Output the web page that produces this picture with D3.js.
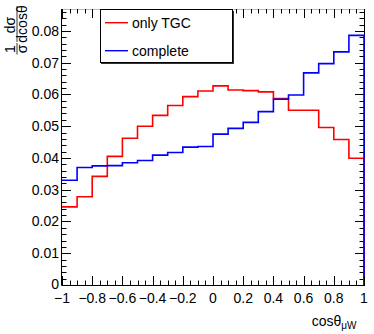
<!DOCTYPE html>
<html>
<head>
<meta charset="utf-8">
<script src="https://cdn.jsdelivr.net/npm/d3@7"></script>
<style>
  html, body { margin: 0; padding: 0; background: #fff; }
  svg { display: block; font-family: "Liberation Sans", Arial, Helvetica, sans-serif; }
</style>
</head>
<body>
<svg id="chart" width="374" height="334"></svg>
<script>
// ---- data ----
const binLow  = [-1.0,-0.9,-0.8,-0.7,-0.6,-0.5,-0.4,-0.3,-0.2,-0.1, 0.0, 0.1, 0.2, 0.3, 0.4, 0.5, 0.6, 0.7, 0.8, 0.9];
const binHigh = [-0.9,-0.8,-0.7,-0.6,-0.5,-0.4,-0.3,-0.2,-0.1, 0.0, 0.1, 0.2, 0.3, 0.4, 0.5, 0.6, 0.7, 0.8, 0.9, 1.0];
const onlyTGC = [0.0246,0.0278,0.0342,0.0405,0.0462,0.0500,0.0534,0.0565,0.0593,0.0611,
                 0.0627,0.0614,0.0612,0.0608,0.0587,0.0550,0.0550,0.0496,0.0458,0.0399];
const complete = [0.0330,0.0370,0.0375,0.0376,0.0385,0.0392,0.0409,0.0417,0.0434,0.0436,
                  0.0475,0.0493,0.0512,0.0546,0.0585,0.0598,0.0668,0.0697,0.0734,0.0786];
const seriesNames = ["only TGC", "complete"];
const seriesColors = ["#ff0000", "#0000ff"];
const xTickValues = [-1,-0.8,-0.6,-0.4,-0.2,0,0.2,0.4,0.6,0.8,1];
const xTickLabels = ["\u22121","\u22120.8","\u22120.6","\u22120.4","\u22120.2","0","0.2","0.4","0.6","0.8","1"];
const yTickValues = [0,0.01,0.02,0.03,0.04,0.05,0.06,0.07,0.08];
const yTickLabels = ["0","0.01","0.02","0.03","0.04","0.05","0.06","0.07","0.08"];
const xDomain = [-1, 1];
const yDomain = [0, 0.0869];

// ---- layout ----
const L = 62, R = 364, T = 9, B = 285;
const svg = d3.select("#chart");
const x = d3.scaleLinear().domain(xDomain).range([L, R]);
const y = d3.scaleLinear().domain(yDomain).range([B, T]);

const majorLen = 9, minorLen = 4.5;
const xMinor = d3.range(-1, 1.0001, 0.05).map(v => +v.toFixed(2));
const yMinor = d3.range(0, 0.0869, 0.002).map(v => +v.toFixed(3));

svg.append("defs").append("clipPath").attr("id", "plotclip")
  .append("rect").attr("x", L).attr("y", T).attr("width", R - L + 1).attr("height", B - T);

// right & top frame (under histograms)
const frame = svg.append("g").attr("stroke", "#000").attr("stroke-width", 1).attr("fill", "none");
frame.append("line").attr("x1", R + 0.5).attr("x2", R + 0.5).attr("y1", T).attr("y2", B);
frame.append("line").attr("x1", L).attr("x2", R).attr("y1", T + 0.5).attr("y2", T + 0.5).attr("stroke", "#bbb");
xMinor.forEach(v => {
  const isMajor = xTickValues.some(t => Math.abs(t - v) < 1e-6);
  const len = isMajor ? majorLen : minorLen;
  frame.append("line").attr("x1", Math.round(x(v)) + 0.5).attr("x2", Math.round(x(v)) + 0.5)
    .attr("y1", T).attr("y2", T + len);
});
yMinor.forEach(v => {
  const isMajor = yTickValues.some(t => Math.abs(t - v) < 1e-6);
  const len = isMajor ? majorLen : minorLen;
  frame.append("line").attr("y1", Math.round(y(v)) + 0.5).attr("y2", Math.round(y(v)) + 0.5)
    .attr("x1", R).attr("x2", R - len);
});

// ---- histograms ----
function histPath(vals) {
  const p = d3.path();
  vals.forEach((v, i) => {
    if (i === 0) p.moveTo(x(binLow[i]), y(v)); else p.lineTo(x(binLow[i]), y(v));
    p.lineTo(x(binHigh[i]), y(v));
  });
  p.lineTo(x(binHigh[binHigh.length - 1]), y(0));
  return p.toString();
}
const hg = svg.append("g").attr("clip-path", "url(#plotclip)");
[onlyTGC, complete].forEach((vals, k) => {
  hg.append("path").attr("d", histPath(vals)).attr("fill", "none")
    .attr("stroke", seriesColors[k]).attr("stroke-width", 1.6);
});

// ---- left & bottom axes ----
const ax = svg.append("g").attr("stroke", "#000").attr("stroke-width", 1);
ax.append("line").attr("x1", L - 0.5).attr("x2", L - 0.5).attr("y1", T).attr("y2", B + 0.5);
ax.append("line").attr("x1", L - 0.5).attr("x2", R + 1).attr("y1", B + 0.5).attr("y2", B + 0.5);
xMinor.forEach(v => {
  const isMajor = xTickValues.some(t => Math.abs(t - v) < 1e-6);
  const len = isMajor ? majorLen : minorLen;
  ax.append("line").attr("x1", Math.round(x(v)) + 0.5).attr("x2", Math.round(x(v)) + 0.5)
    .attr("y1", B).attr("y2", B - len);
});
yMinor.forEach(v => {
  const isMajor = yTickValues.some(t => Math.abs(t - v) < 1e-6);
  const len = isMajor ? majorLen : minorLen;
  ax.append("line").attr("y1", Math.round(y(v)) + 0.5).attr("y2", Math.round(y(v)) + 0.5)
    .attr("x1", L).attr("x2", L + len);
});

// tick labels
const lab = svg.append("g").attr("font-size", 14).attr("fill", "#000");
xTickValues.forEach((v, i) => {
  lab.append("text").attr("x", x(v)).attr("y", 303).attr("text-anchor", "middle").text(xTickLabels[i]);
});
yTickValues.forEach((v, i) => {
  lab.append("text").attr("x", 59).attr("y", y(v) + 5 - (i === 0 ? 1 : 0)).attr("text-anchor", "end").text(yTickLabels[i]);
});

// x axis title
const xt = svg.append("text").attr("x", 356.5).attr("y", 325.5).attr("text-anchor", "end").attr("font-size", 14);
xt.append("tspan").text("cos\u03B8");
xt.append("tspan").attr("font-size", 10).attr("dy", 3).text("\u03BCW");

// y axis title (rotated fractions)
const yt = svg.append("g").attr("transform", "translate(17,55) rotate(-90)").attr("font-size", 14);
yt.append("text").attr("x", 6).attr("y", -2.5).attr("text-anchor", "middle").text("1");
yt.append("text").attr("x", 6).attr("y", 10).attr("text-anchor", "middle").text("\u03C3");
yt.append("line").attr("x1", 0.5).attr("x2", 12).attr("y1", 0).attr("y2", 0).attr("stroke", "#000").attr("stroke-width", 0.8);
yt.append("text").attr("x", 30).attr("y", -2.5).attr("text-anchor", "middle").text("d\u03C3");
yt.append("text").attr("x", 31).attr("y", 10).attr("text-anchor", "middle").text("dcos\u03B8");
yt.append("line").attr("x1", 13).attr("x2", 49).attr("y1", 0).attr("y2", 0).attr("stroke", "#000").attr("stroke-width", 0.8);

// ---- legend ----
const lg = svg.append("g");
lg.append("rect").attr("x", 101).attr("y", 11).attr("width", 133).attr("height", 53).attr("fill", "#333");
lg.append("rect").attr("x", 100.5).attr("y", 9.5).attr("width", 132).attr("height", 53)
  .attr("fill", "#fff").attr("stroke", "#000").attr("stroke-width", 1);
const legY = [22.7, 50.7];
seriesNames.forEach((name, k) => {
  lg.append("line").attr("x1", 105).attr("x2", 128).attr("y1", legY[k]).attr("y2", legY[k])
    .attr("stroke", seriesColors[k]).attr("stroke-width", 1.4);
  lg.append("text").attr("x", 132).attr("y", legY[k] + 5).attr("font-size", 14).text(name);
});
</script>
</body>
</html>
